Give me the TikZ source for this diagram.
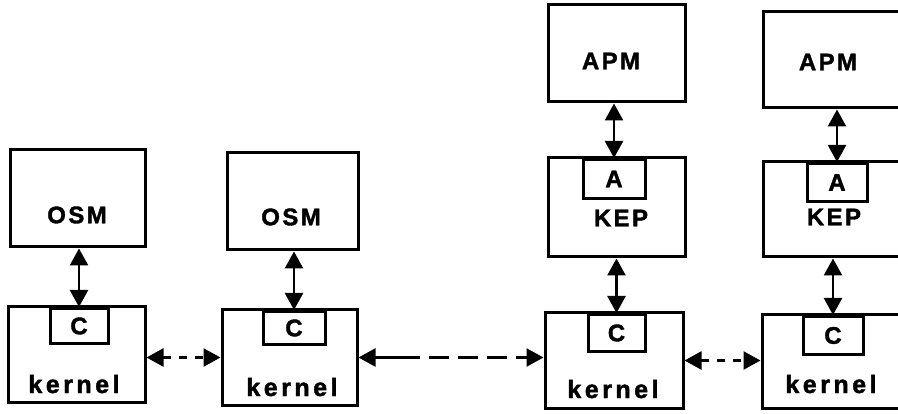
\documentclass[tikz,border=0pt]{standalone}
\usepackage{fontspec}
\setmainfont[LetterSpace=10,BoldFeatures={FakeBold=1.6}]{Liberation Sans}
\usetikzlibrary{arrows.meta}

\begin{document}
\begin{tikzpicture}[x=1pt,y=1pt,
        box/.style={draw,line width=3pt,inner sep=0pt,fill=white},
        tag/.style={font=\fontsize{24}{26}\selectfont\bfseries,inner sep=0pt},
        kern/.style={font=\fontsize{25}{28}\selectfont\bfseries\addfontfeatures{LetterSpace=14},inner sep=0pt,anchor=base},
        bi/.style={{Triangle[width=18pt,length=17pt]}-{Triangle[width=18pt,length=17pt]},line width=2.4pt},
        bidash/.style={bi,dash pattern=on 8pt off 8pt}]
        \useasboundingbox (0,0) rectangle (898,413);
        \node[box,minimum width=135,minimum height=97] (osmA) at (77.5,214.5) {};
        \node[box,minimum width=137,minimum height=95] (kA) at (76.5,58.5) {};
        \node[box,tag,anchor=north,minimum width=58,minimum height=35] (cA) at (79,106) {C};
        \node[box,minimum width=131,minimum height=97] (osmB) at (292.5,211.5) {};
        \node[box,minimum width=135,minimum height=95] (kB) at (289.5,55.5) {};
        \node[box,tag,anchor=north,minimum width=62,minimum height=33] (cB) at (294,103) {C};
        \node[box,minimum width=137,minimum height=97] (apmA) at (616.5,359.5) {};
        \node[box,minimum width=137,minimum height=99] (kepA) at (616.5,205.5) {};
        \node[box,tag,anchor=north,minimum width=62,minimum height=39] (aA) at (614,255) {A};
        \node[box,minimum width=138,minimum height=95] (kC) at (614,52.5) {};
        \node[box,tag,anchor=north,minimum width=57,minimum height=37] (cC) at (616.5,100) {C};
        \node[box,minimum width=139,minimum height=96] (apmB) at (832.5,353) {};
        \node[box,minimum width=140,minimum height=95] (kepB) at (833,203.5) {};
        \node[box,tag,anchor=north,minimum width=60,minimum height=38] (aB) at (837,251) {A};
        \node[box,minimum width=142,minimum height=93] (kD) at (833,51.5) {};
        \node[box,tag,anchor=north,minimum width=60,minimum height=38] (cD) at (833,98) {C};
        \node[tag] (osmAt) at (77,198) {OSM};
        \node[tag] (osmBt) at (291,196) {OSM};
        \node[tag] (apmAt) at (611,352) {APM};
        \node[tag] (apmBt) at (828,351) {APM};
        \node[tag] (kepAt) at (621,195) {KEP};
        \node[tag] (kepBt) at (834,196) {KEP};
        \node[kern] (kAt) at (74,20) {kernel};
        \node[kern] (kBt) at (292,17) {kernel};
        \node[kern] (kCt) at (613,15) {kernel};
        \node[kern] (kDt) at (831,20) {kernel};
        \draw[bi] (cA.north |- osmA.south) -- (cA.north);
        \draw[bi] (cB.north |- osmB.south) -- (cB.north);
        \draw[bi] (aA.north |- apmA.south) -- (aA.north);
        \draw[bi] (cC.north |- kepA.south) -- (cC.north);
        \draw[bi] (aB.north |- apmB.south) -- (aB.north);
        \draw[bi] (cD.north |- kepB.south) -- (cD.north);
        \draw[bidash] (kA.east |- kB.west) -- (kB.west);
        \draw[bi,dash pattern=on 45pt off 9pt on 20pt off 9pt on 20pt off 9pt on 20pt off 9pt on 60pt] (kB.east) -- (kB.east -| kC.west);
        \draw[bidash] (kC.east) -- (kC.east -| kD.west);
    \end{tikzpicture}
\end{document}
